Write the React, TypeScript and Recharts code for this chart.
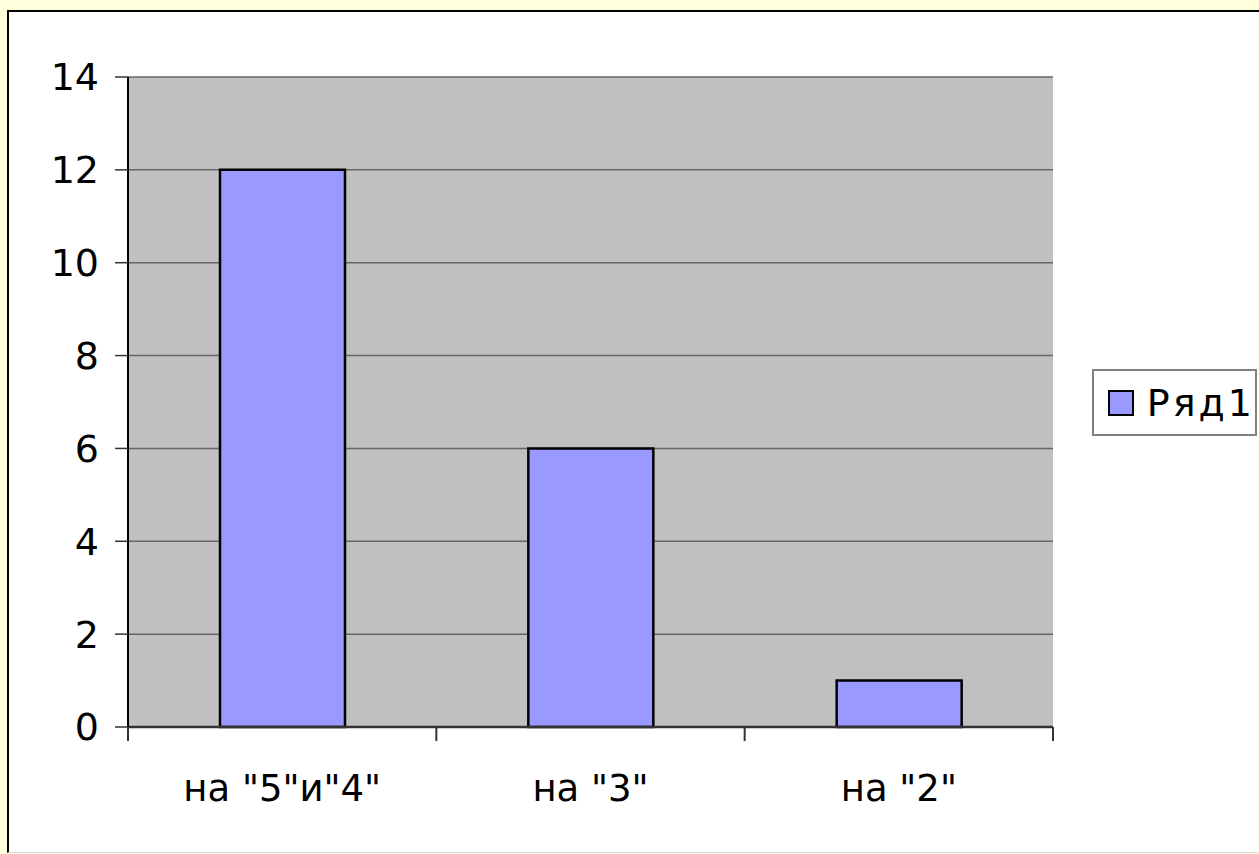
import React from 'react';
import { BarChart, Bar, XAxis, YAxis, CartesianGrid } from 'recharts';

const categories = ['на "5"и"4"', 'на "3"', 'на "2"'];
const values = [12, 6, 1];
const yTicks = [0, 2, 4, 6, 8, 10, 12, 14];
const seriesName = 'Ряд1';

const data = categories.map((c, i) => ({ category: c, value: values[i] }));

const W = 1259;
const H = 854;
const M = { top: 77, right: 206, bottom: 47, left: 0 };
const Y_W = 128;
const X_H = 80;
const PLOT_W = W - M.left - M.right - Y_W;
const BAND = PLOT_W / categories.length;
const TICK = 14;
const X_MARGIN = 34;
const FONT = '"DejaVu Sans", Verdana, sans-serif';

function XTick(props: any) {
  const { x, y, payload, index } = props;
  const axisY = y - TICK - X_MARGIN;
  const left = x - BAND / 2;
  const right = x + BAND / 2;
  const isLast = index === categories.length - 1;
  return (
    <g>
      <line x1={left} x2={left} y1={axisY} y2={axisY + TICK} stroke="#333" strokeWidth={2} />
      {isLast && <line x1={right} x2={right} y1={axisY} y2={axisY + TICK} stroke="#333" strokeWidth={2} />}
      <text x={x} y={y} dy="0.71em" textAnchor="middle" fontSize={37} fontFamily={FONT} fill="#000">
        {payload.value}
      </text>
    </g>
  );
}

function LegendBox() {
  return (
    <div
      style={{
        position: 'absolute',
        left: 1092,
        top: 369,
        width: 161,
        height: 63,
        border: '2px solid #808080',
        background: '#fff',
        boxSizing: 'content-box',
        display: 'flex',
        alignItems: 'center',
        fontFamily: FONT,
      }}
    >
      <div
        style={{
          width: 22,
          height: 22,
          marginLeft: 14,
          border: '2px solid #000',
          background: '#9999FF',
        }}
      />
      <span style={{ marginLeft: 13, fontSize: 38, letterSpacing: 3, color: '#000', lineHeight: 1 }}>{seriesName}</span>
    </div>
  );
}

export default function App() {
  return (
    <div style={{ position: 'fixed', left: 0, top: 0, width: W, height: H, background: '#FFFFDB', overflow: 'hidden' }}>
      <div
        style={{
          position: 'absolute',
          left: 7,
          top: 10,
          width: 1300,
          height: 840,
          background: '#fff',
          borderLeft: '2px solid #000',
          borderTop: '2px solid #000',
          borderBottom: '1px solid #ddd',
        }}
      />
      <div style={{ position: 'absolute', left: 0, top: 0 }}>
        <BarChart width={W} height={H} data={data} margin={M}>
          <CartesianGrid vertical={false} stroke="#666" strokeWidth={1.5} fill="#C0C0C0" fillOpacity={1} />
          <XAxis
            dataKey="category"
            height={X_H}
            tickSize={TICK}
            tickMargin={X_MARGIN}
            tickLine={false}
            axisLine={{ stroke: '#333', strokeWidth: 2.5 }}
            tick={<XTick />}
            interval={0}
          />
          <YAxis
            width={Y_W}
            domain={[0, 14]}
            ticks={yTicks}
            interval={0}
            tickSize={13}
            tickMargin={16}
            axisLine={{ stroke: '#000', strokeWidth: 2 }}
            tickLine={{ stroke: '#333', strokeWidth: 1.5 }}
            tick={{ fontSize: 38, fontFamily: FONT, fill: '#000' }}
          />
          <YAxis
            yAxisId="frame"
            orientation="right"
            width={0}
            domain={[0, 14]}
            tick={false}
            tickLine={false}
            axisLine={{ stroke: '#808080', strokeWidth: 3 }}
          />
          <Bar dataKey="value" name={seriesName} fill="#9999FF" stroke="#000" strokeWidth={2.5} barSize={125} isAnimationActive={false} />
        </BarChart>
      </div>
      <LegendBox />
    </div>
  );
}
